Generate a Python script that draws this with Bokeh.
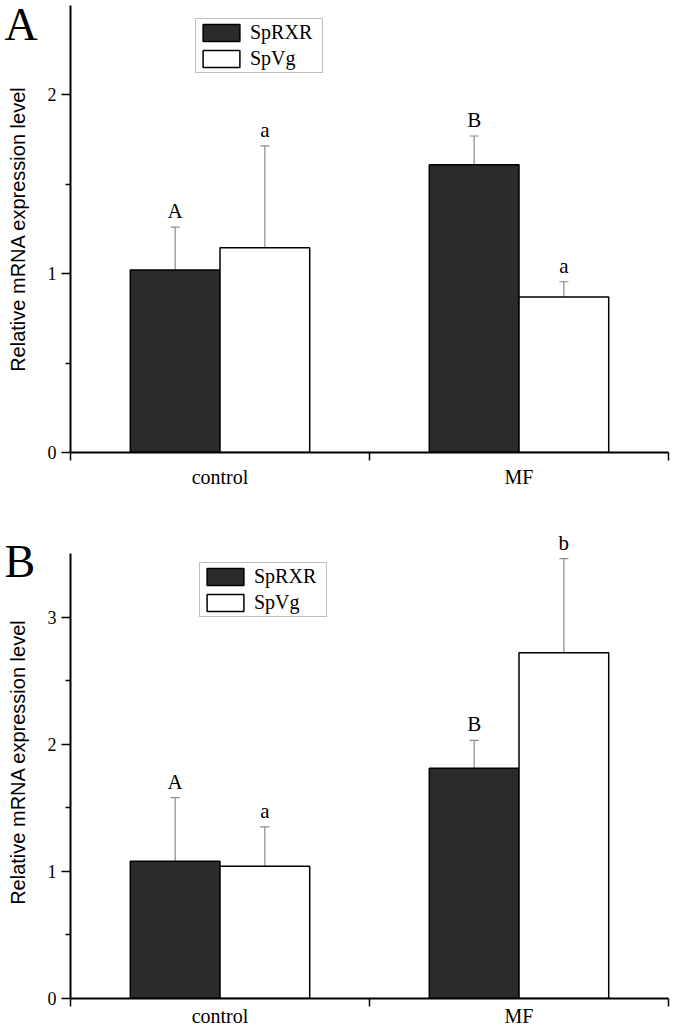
from bokeh.plotting import figure
from bokeh.models import (ColumnDataSource, Whisker, TeeHead, FixedTicker, Title,
                          LabelSet, Range1d)
from bokeh.layouts import column
from bokeh.embed import file_html
from bokeh.resources import INLINE

# ---------------- data ----------------
groups = ["control", "MF"]
series = ["SpRXR", "SpVg"]

a_rxr = [1.02, 1.61]
a_rxr_err = [0.24, 0.16]
a_rxr_sig = ["A", "B"]
a_vg = [1.145, 0.87]
a_vg_err = [0.57, 0.085]
a_vg_sig = ["a", "a"]

b_rxr = [1.08, 1.81]
b_rxr_err = [0.50, 0.22]
b_rxr_sig = ["A", "B"]
b_vg = [1.04, 2.72]
b_vg_err = [0.31, 0.74]
b_vg_sig = ["a", "b"]

a_yticks = [0, 1, 2]
a_yminor = [0.5, 1.5]
a_ymax = 2.5
b_yticks = [0, 1, 2, 3]
b_yminor = [0.5, 1.5, 2.5]
b_ymax = 3.5

SERIF = "Liberation Serif"
SANS = "Liberation Sans"
DARK = "#2b2b2b"
GRAY = "#8a8a8a"

W = 675
BL = 70
BR = 7


def make_panel(letter, rxr, rxr_err, rxr_sig, vg, vg_err, vg_sig, ymax, headroom,
               yticks, yminor, height, top, bottom, letter_standoff, legend_loc, xstand):
    p = figure(width=W, height=height, output_backend="svg", toolbar_location=None,
               x_range=Range1d(0, 2), y_range=Range1d(0, ymax + headroom),
               min_border_left=BL, min_border_right=BR, min_border_top=top,
               min_border_bottom=bottom)
    p.outline_line_color = None
    p.grid.visible = False
    p.background_fill_color = "white"
    p.border_fill_color = "white"

    p.title = Title(text=letter, align="left", offset=-(BL - 4), standoff=letter_standoff,
                    vertical_align="bottom", text_font=SERIF, text_font_size="46px",
                    text_font_style="normal", text_color="black")

    centers = [i + 0.5 for i in range(len(groups))]
    w = 0.3
    x_rxr = [c - w / 2 for c in centers]
    x_vg = [c + w / 2 for c in centers]

    s_rxr = ColumnDataSource(dict(x=x_rxr, top=rxr,
                                  upper=[v + e for v, e in zip(rxr, rxr_err)], sig=rxr_sig))
    s_vg = ColumnDataSource(dict(x=x_vg, top=vg,
                                 upper=[v + e for v, e in zip(vg, vg_err)], sig=vg_sig))

    for src in (s_rxr, s_vg):
        wk = Whisker(source=src, base="x", upper="upper", lower="top",
                     line_color=GRAY, line_width=1.2,
                     upper_head=TeeHead(size=9, line_color=GRAY, line_width=1.2),
                     lower_head=None, level="underlay")
        p.add_layout(wk)

    p.vbar(x="x", top="top", width=w, source=s_rxr, fill_color=DARK,
           line_color="black", line_width=1.5, legend_label=series[0])
    p.vbar(x="x", top="top", width=w, source=s_vg, fill_color="white",
           line_color="black", line_width=1.5, legend_label=series[1])

    for src in (s_rxr, s_vg):
        p.add_layout(LabelSet(x="x", y="upper", text="sig", source=src,
                              text_align="center", text_baseline="alphabetic",
                              y_offset=9, text_font=SERIF, text_font_size="21px",
                              text_color="black"))

    # axes
    yax = p.yaxis[0]
    yax.ticker = FixedTicker(ticks=yticks, minor_ticks=yminor)
    yax.bounds = (0, ymax)
    yax.axis_line_width = 2
    yax.major_tick_line_width = 1.5
    yax.minor_tick_line_width = 1.5
    yax.major_tick_in = 0
    yax.major_tick_out = 9
    yax.minor_tick_in = 0
    yax.minor_tick_out = 5
    yax.major_label_standoff = 5
    yax.major_label_text_font = SERIF
    yax.major_label_text_font_size = "18px"
    yax.major_label_text_color = "black"
    yax.axis_label = "Relative mRNA expression level"
    yax.axis_label_text_font = SANS
    yax.axis_label_text_font_style = "normal"
    yax.axis_label_text_font_size = "20px"
    yax.axis_label_text_color = "black"
    yax.axis_label_standoff = 16

    xax = p.xaxis[0]
    xax.ticker = FixedTicker(ticks=centers, minor_ticks=[0, 1, 2])
    xax.major_label_overrides = {c: g for c, g in zip(centers, groups)}
    xax.axis_line_width = 2
    xax.major_tick_line_color = None
    xax.major_tick_in = 0
    xax.major_tick_out = 0
    xax.minor_tick_in = 0
    xax.minor_tick_out = 8
    xax.minor_tick_line_width = 1.5
    xax.major_label_standoff = xstand
    xax.major_label_text_font = SERIF
    xax.major_label_text_font_size = "20px"
    xax.major_label_text_color = "black"

    # legend
    lg = p.legend[0]
    lg.location = legend_loc
    lg.glyph_width = 46
    lg.glyph_height = 21
    lg.label_width = 70
    lg.label_height = 21
    lg.padding = 2
    lg.spacing = 3
    lg.margin = 0
    lg.label_standoff = 6
    lg.label_text_font = SERIF
    lg.label_text_font_size = "20px"
    lg.label_text_color = "black"
    lg.border_line_color = "#808080"
    lg.border_line_width = 1
    lg.background_fill_alpha = 1
    return p


# panel A: frame top 5, frame bottom 452 (0..2.5)
pA = make_panel("A", a_rxr, a_rxr_err, a_rxr_sig, a_vg, a_vg_err, a_vg_sig, a_ymax, 0.0,
                a_yticks, a_yminor, height=505, top=5, bottom=53, letter_standoff=-88,
                legend_loc=(125, 379), xstand=5)
# panel B: axis 553..998 (0..3.5), frame extends up to 525 for the top letter
pB = make_panel("B", b_rxr, b_rxr_err, b_rxr_sig, b_vg, b_vg_err, b_vg_sig, b_ymax,
                28 * b_ymax / 445, b_yticks, b_yminor, height=527, top=20, bottom=34,
                letter_standoff=-122, legend_loc=(129, 381), xstand=-2)

layout = column(pA, pB)
open("out.html", "w").write(file_html(layout, INLINE))
